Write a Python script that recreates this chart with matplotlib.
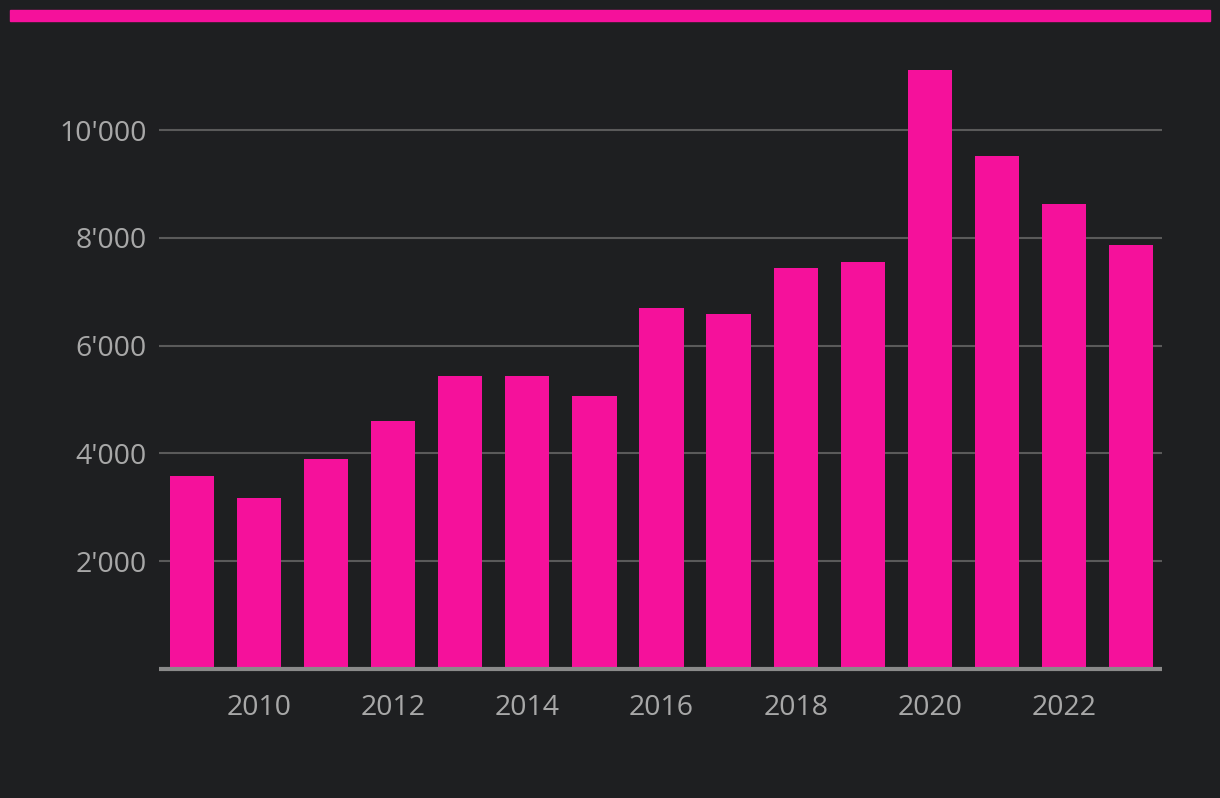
import matplotlib
matplotlib.use("Agg")
import matplotlib.pyplot as plt
from matplotlib.patches import Rectangle
from matplotlib.ticker import FuncFormatter

years = [2009, 2010, 2011, 2012, 2013, 2014, 2015, 2016, 2017, 2018, 2019, 2020, 2021, 2022, 2023]
values = [3580, 3170, 3900, 4600, 5440, 5440, 5065, 6700, 6590, 7440, 7550, 11110, 9520, 8630, 7870]
yticks = [2000, 4000, 6000, 8000, 10000]
xticks = [2010, 2012, 2014, 2016, 2018, 2020, 2022]

BG = "#1e1f21"
PINK = "#f5119b"

plt.rcParams['font.family'] = ['Open Sans', 'DejaVu Sans']

fig = plt.figure(figsize=(12.2, 7.98), dpi=100, facecolor=BG)
W, H = 1220, 798

# top accent bar
fig.patches.append(Rectangle((10 / W, 1 - 21 / H), 1200 / W, 11 / H,
                             transform=fig.transFigure, color=PINK, zorder=0))

ytop = 11200
px_per_unit = 53.9 / 1000
top_px = 669 - ytop * px_per_unit
ax = fig.add_axes([159 / W, 1 - 669 / H, (1162 - 159) / W, (669 - top_px) / H])
ax.set_facecolor(BG)

ax.bar(years, values, width=0.66, color=PINK, zorder=3)
ax.set_xlim(2008.51, 2023.46)
ax.set_ylim(0, ytop)

ax.set_yticks(yticks)
ax.set_xticks(xticks)
ax.yaxis.set_major_formatter(FuncFormatter(lambda v, p: f"{int(v):,}".replace(",", "'")))
ax.grid(axis='y', color='#5a5a5a', linewidth=1.5, zorder=0)
ax.grid(axis='x', visible=False)

for s in ['top', 'right', 'left']:
    ax.spines[s].set_visible(False)
ax.spines['bottom'].set_color('#8a8a8a')
ax.spines['bottom'].set_linewidth(3)
ax.spines['bottom'].set_capstyle('butt')
ax.spines['bottom'].set_zorder(4)

ax.tick_params(axis='both', length=0, labelsize=20.5, labelcolor='#a8a8a8')
ax.tick_params(axis='y', pad=9)
ax.tick_params(axis='x', pad=18)

fig.savefig("out.png", dpi=100, facecolor=BG)
